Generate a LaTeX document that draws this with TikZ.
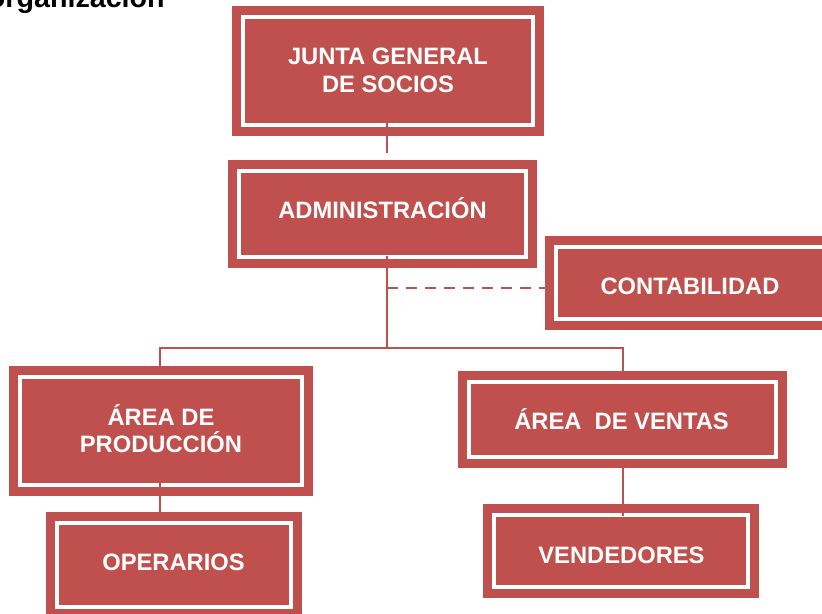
\documentclass[tikz,border=0pt]{standalone}
\usepackage{fontspec}
\setmainfont{Liberation Sans}
\usetikzlibrary{fit}
\definecolor{acc}{HTML}{C0504D}
\newcommand\innerframe[1]{\draw[wframe] ([shift={(11,11)}]#1.north west) rectangle ([shift={(-11,-11)}]#1.south east);}
\begin{document}
\begin{tikzpicture}[x=0.75pt,y=-0.75pt,
  box/.style={fill=acc, draw=none, inner sep=0pt},
  wframe/.style={draw=white, line width=3pt},
  conn/.style={draw=acc, line width=1.5pt},
  dashln/.style={conn, dash pattern=on 8.25pt off 6pt},
  lbl/.style={text=white, inner sep=0pt, anchor=base, font=\bfseries\fontsize{17.8}{20.6}\selectfont},
  ttl/.style={text=black, inner sep=0pt, anchor=base east, font=\bfseries\fontsize{21.5}{25}\selectfont}]
\useasboundingbox (0,0) rectangle (822,614);
\clip (0,0) rectangle (822,614);
% title (cut by the top edge)
\node[ttl] (tit) at (165,7.5) {organización};
% boxes
\node[box, fit={(232,6) (544,136)}] (junta) {};
\node[box, fit={(228,160) (537,268)}] (admin) {};
\node[box, fit={(545,236) (850,330)}] (conta) {};
\node[box, fit={(9,366) (313,496)}] (prod) {};
\node[box, fit={(46,512) (302,618)}] (oper) {};
\node[box, fit={(458,371) (787,468)}] (ventas) {};
\node[box, fit={(483,504) (759,598)}] (vend) {};
\innerframe{junta}
\innerframe{admin}
\innerframe{conta}
\innerframe{prod}
\innerframe{oper}
\innerframe{ventas}
\innerframe{vend}
% labels
\node[lbl] (junta1) at (388,64) {JUNTA GENERAL};
\node[lbl] (junta2) at (388,92) {DE SOCIOS};
\node[lbl] (admint) at (382.5,218) {ADMINISTRACIÓN};
\node[lbl] (contat) at (690,294) {CONTABILIDAD};
\node[lbl] (prod1) at (161,425) {ÁREA DE};
\node[lbl] (prod2) at (161,452) {PRODUCCIÓN};
\node[lbl] (opert) at (173.5,570) {OPERARIOS};
\node[lbl] (ventast) at (621.5,429) {ÁREA\ \ DE VENTAS};
\node[lbl] (vendt) at (621.5,563) {VENDEDORES};
% connectors
\coordinate (hub) at (386.5,347.5);
\coordinate (cw) at ([shift={(13,5)}]conta.west);
\draw[conn] ([shift={(-1,-13)}]junta.south) -- ([shift={(4.5,-7)}]admin.north);
\draw[conn] ([shift={(4,-12)}]admin.south) -- (hub);
\draw[conn] ([shift={(-1.5,0)}]prod.north) |- (hub) -| (ventas.north);
\draw[conn] ([shift={(-1,-13)}]prod.south) -- ([shift={(-14,0)}]oper.north);
\draw[conn] ([shift={(0,-9)}]ventas.south) -- ([shift={(1.5,12)}]vend.north);
\draw[dashln] (hub |- cw) -- (cw);
\end{tikzpicture}
\end{document}
